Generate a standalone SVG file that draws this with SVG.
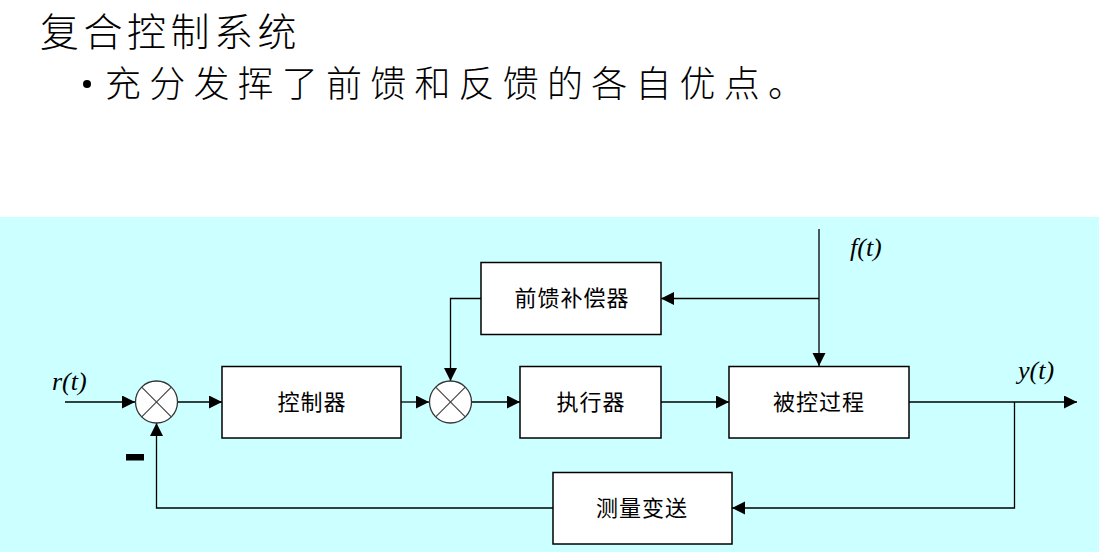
<svg xmlns="http://www.w3.org/2000/svg" width="1099" height="552" viewBox="0 0 1099 552">
<defs>
<marker id="arr" markerWidth="14" markerHeight="14" refX="13" refY="6.5" orient="auto" markerUnits="userSpaceOnUse">
<path d="M0,0 L13,6.5 L0,13 Z" fill="#000"/>
</marker>
<style>
.box{fill:#fff;stroke:#000;stroke-width:1.5}
.lbl{font-family:"Noto Sans CJK SC",sans-serif;font-size:22px;letter-spacing:1px;text-anchor:middle;fill:#000}
.ln{fill:none;stroke:#000;stroke-width:1.3}
.sum{fill:#fff;stroke:#333;stroke-width:1.3}
.x{stroke:#444;stroke-width:1.2}
.math{font-family:"Liberation Serif",serif;font-style:italic;font-size:26px;fill:#000}
.title{font-family:"Noto Sans CJK SC",sans-serif;font-weight:300;fill:#000}
</style>
</defs>
<rect x="0" y="0" width="1099" height="552" fill="#fff"/>
<rect x="0" y="217" width="1099" height="335" fill="#ccffff"/>
<text class="title" x="40" y="46" font-size="39" letter-spacing="4.5">复合控制系统</text>
<circle cx="87" cy="84" r="4" fill="#000"/>
<text class="title" x="105" y="97" font-size="36" letter-spacing="8.2">充分发挥了前馈和反馈的各自优点。</text>
<g id="connectors">
<line class="ln" x1="65" y1="402" x2="135" y2="402" marker-end="url(#arr)"/>
<line class="ln" x1="178" y1="402" x2="222" y2="402" marker-end="url(#arr)"/>
<line class="ln" x1="401" y1="402" x2="429" y2="402" marker-end="url(#arr)"/>
<line class="ln" x1="472" y1="402" x2="520" y2="402" marker-end="url(#arr)"/>
<line class="ln" x1="661" y1="402" x2="729" y2="402" marker-end="url(#arr)"/>
<line class="ln" x1="909" y1="402" x2="1077" y2="402" marker-end="url(#arr)"/>
<polyline class="ln" points="481,298.5 450.5,298.5 450.5,381" marker-end="url(#arr)"/>
<line class="ln" x1="819" y1="229" x2="819" y2="366" marker-end="url(#arr)"/>
<line class="ln" x1="819" y1="298.5" x2="661" y2="298.5" marker-end="url(#arr)"/>
<polyline class="ln" points="1014.5,402 1014.5,508 732,508" marker-end="url(#arr)"/>
<polyline class="ln" points="553,508 156.5,508 156.5,423" marker-end="url(#arr)"/>
</g>
<g id="sum1">
<circle class="sum" cx="156.5" cy="402" r="21"/>
<line class="x" x1="141.7" y1="387.2" x2="171.3" y2="416.8"/>
<line class="x" x1="171.3" y1="387.2" x2="141.7" y2="416.8"/>
</g>
<g id="sum2">
<circle class="sum" cx="450.5" cy="402" r="21"/>
<line class="x" x1="435.7" y1="387.2" x2="465.3" y2="416.8"/>
<line class="x" x1="465.3" y1="387.2" x2="435.7" y2="416.8"/>
</g>
<g id="controller">
<rect class="box" x="222" y="366.5" width="179" height="71.5"/>
<text class="lbl" x="312" y="410">控制器</text>
</g>
<g id="compensator">
<rect class="box" x="481" y="262.5" width="180" height="72"/>
<text class="lbl" x="572" y="306">前馈补偿器</text>
</g>
<g id="actuator">
<rect class="box" x="520" y="366.5" width="141" height="71.5"/>
<text class="lbl" x="591" y="410">执行器</text>
</g>
<g id="process">
<rect class="box" x="729" y="366.5" width="180" height="71.5"/>
<text class="lbl" x="819" y="410">被控过程</text>
</g>
<g id="measure">
<rect class="box" x="553" y="472.5" width="179" height="71.5"/>
<text class="lbl" x="642" y="516">测量变送</text>
</g>
<g id="labels">
<text class="math" x="52" y="390">r(t)</text>
<text class="math" x="850" y="256">f(t)</text>
<text class="math" x="1018" y="379">y(t)</text>
<rect x="126" y="454" width="18" height="6.5" fill="#000"/>
</g>
</svg>
